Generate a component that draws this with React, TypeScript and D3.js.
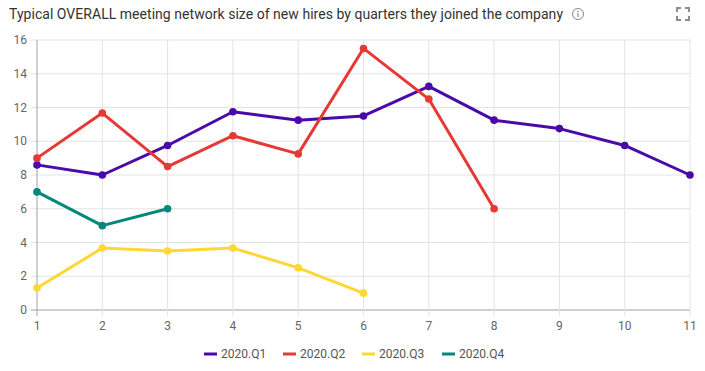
import React from 'react'
import * as d3 from 'd3'

const title = 'Typical OVERALL meeting network size of new hires by quarters they joined the company'
const seriesNames = ['2020.Q1', '2020.Q2', '2020.Q3', '2020.Q4']
const seriesColors = ['#4a0aa8', '#e53935', '#fdd835', '#00897b']
const q1 = [8.6, 8.0, 9.75, 11.75, 11.25, 11.5, 13.25, 11.25, 10.75, 9.75, 8.0]
const q2 = [9.0, 11.67, 8.5, 10.33, 9.25, 15.5, 12.5, 6.0]
const q3 = [1.3, 3.67, 3.5, 3.67, 2.5, 1.0]
const q4 = [7.0, 5.0, 6.0]
const xTicks = [1, 2, 3, 4, 5, 6, 7, 8, 9, 10, 11]
const yTicks = [0, 2, 4, 6, 8, 10, 12, 14, 16]

const W = 705
const H = 371
const font = 'Roboto, sans-serif'

const App = () => {
  const x = d3.scaleLinear().domain([1, 11]).range([37, 690])
  const y = d3.scaleLinear().domain([0, 16]).range([310, 40])
  const line = d3.line<number>().x((d, i) => x(i + 1)).y(d => y(d))
  const allSeries = [q1, q2, q3, q4]

  // legend item positions
  const legendX = [204, 283, 362, 442]

  return (
    <svg width={W} height={H} style={{ position: 'absolute', left: 0, top: 0, background: '#fff' }}>
      <text x={9} y={19} fontFamily={font} fontSize={14} textLength={554} fill="#333">{title}</text>
      <g transform="translate(578,14)">
        <circle r={5.5} fill="none" stroke="#888" strokeWidth={1} />
        <circle cy={-2.5} r={0.8} fill="#888" />
        <line x1={0} x2={0} y1={-1} y2={3} stroke="#888" strokeWidth={1.1} />
      </g>
      <g stroke="#8a8aa0" strokeWidth={2} fill="none">
        <path d="M677,12 V8 H681" />
        <path d="M685,8 H689 V12" />
        <path d="M677,16 V20 H681" />
        <path d="M685,20 H689 V16" />
      </g>

      <g>
        {yTicks.map(t => (
          <g key={'y' + t}>
            <line x1={31} x2={690} y1={y(t)} y2={y(t)} stroke={t === 0 ? '#a0a0a0' : '#e3e3e3'} strokeWidth={1} />
            <text x={27} y={y(t) + 4} textAnchor="end" fontFamily={font} fontSize={12} fill="#666">{t}</text>
          </g>
        ))}
        {xTicks.map(t => (
          <g key={'x' + t}>
            <line x1={x(t)} x2={x(t)} y1={40} y2={316} stroke={t === 1 ? '#a0a0a0' : '#e3e3e3'} strokeWidth={1} />
            <text x={x(t)} y={330} textAnchor="middle" fontFamily={font} fontSize={12} fill="#666">{t}</text>
          </g>
        ))}
      </g>

      {allSeries.map((s, si) => (
        <g key={seriesNames[si]}>
          <path d={line(s) || ''} fill="none" stroke={seriesColors[si]} strokeWidth={3} strokeLinejoin="round" />
          {s.map((v, i) => (
            <circle key={i} cx={x(i + 1)} cy={y(v)} r={3.8} fill={seriesColors[si]} />
          ))}
        </g>
      ))}

      {seriesNames.map((n, i) => (
        <g key={'l' + n} transform={`translate(${legendX[i]},354)`}>
          <rect x={0} y={-1.5} width={13} height={3} fill={seriesColors[i]} />
          <text x={17} y={4} fontFamily={font} fontSize={12} fill="#555">{n}</text>
        </g>
      ))}
    </svg>
  )
}

export default App
